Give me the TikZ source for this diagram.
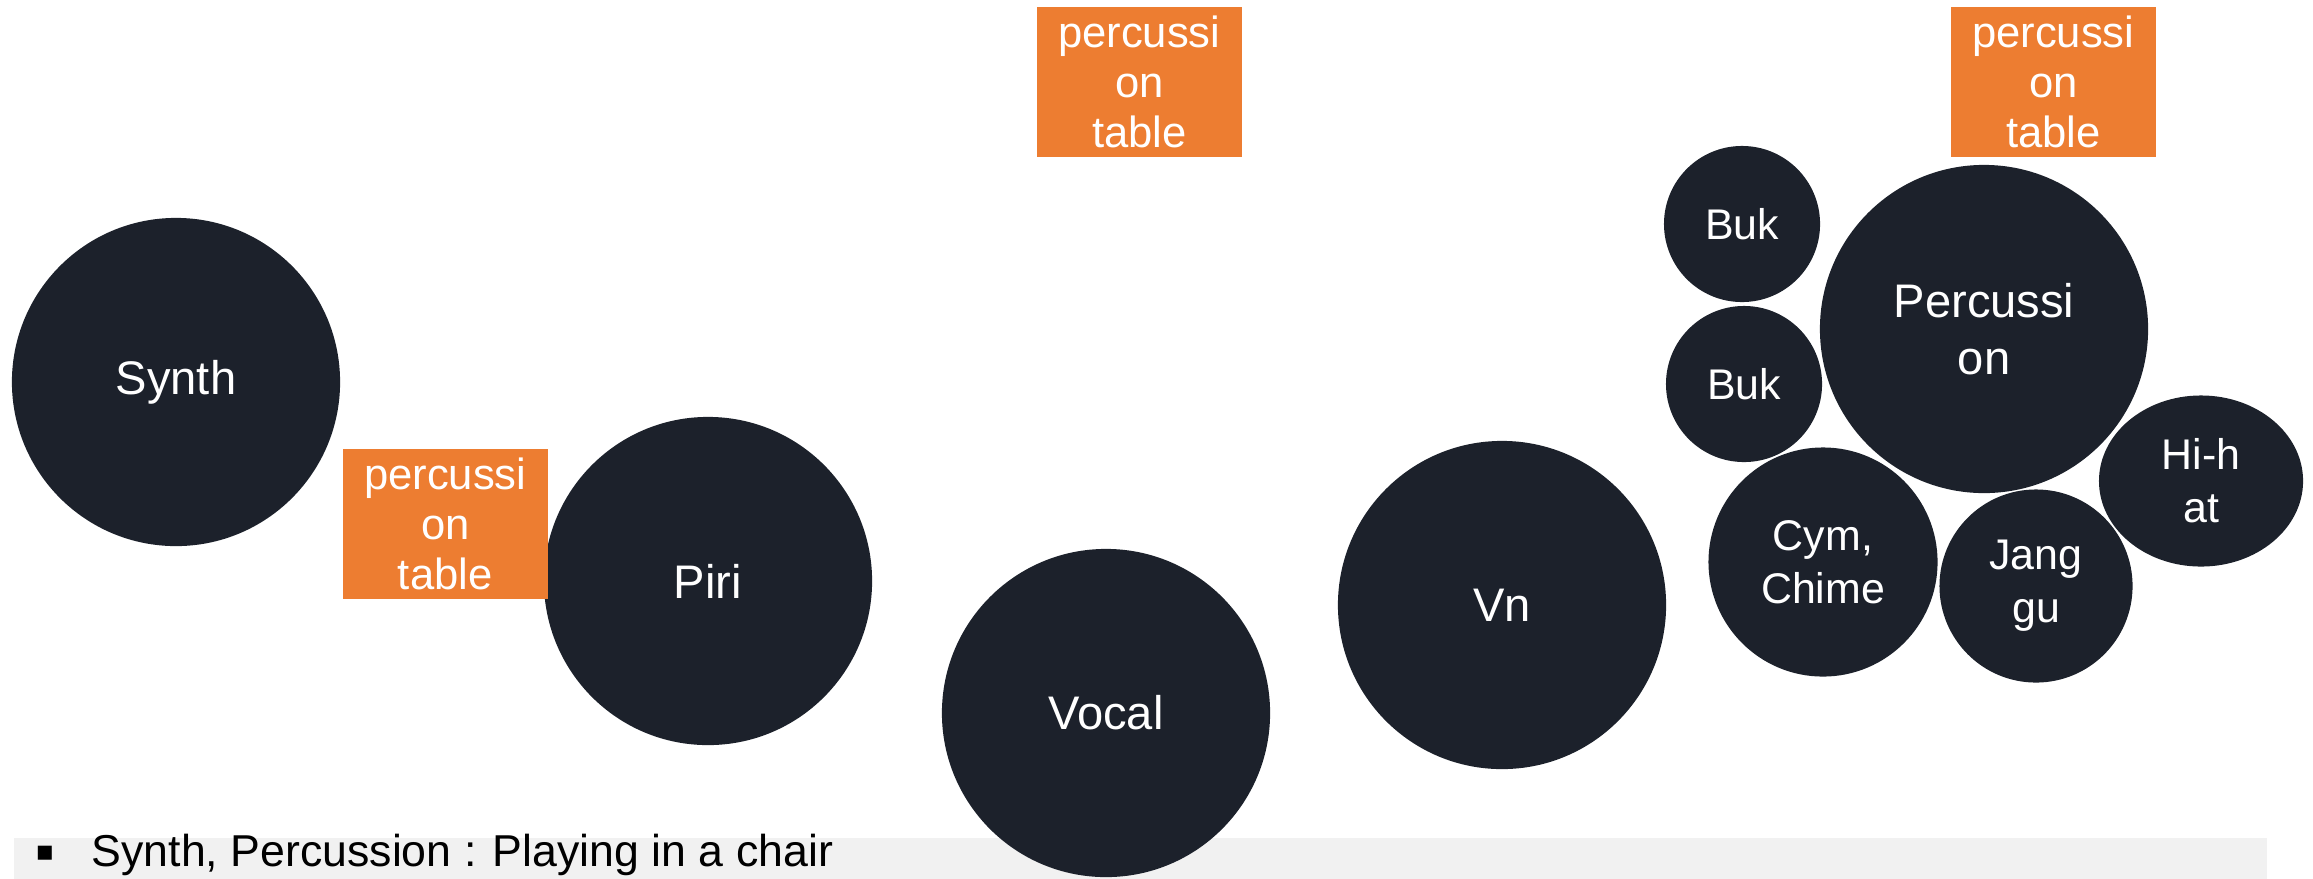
\documentclass[tikz,border=0pt]{standalone}
\usepackage{fontspec}
\setmainfont{Liberation Sans}
\newfontfamily\symfont{DejaVu Sans}
\usetikzlibrary{shapes.geometric}
\definecolor{darkc}{HTML}{1C212B}
\definecolor{orangec}{HTML}{ED7D31}
\definecolor{barc}{HTML}{F1F1F1}
\tikzset{
  bigc/.style={circle, fill=darkc, draw=none, inner sep=0pt, text=white, align=center,
    font=\fontsize{13.4}{16.4}\selectfont},
  smallc/.style={circle, fill=darkc, draw=none, inner sep=0pt, text=white, align=center,
    font=\fontsize{12.2}{15}\selectfont},
  tablebox/.style={rectangle, fill=orangec, draw=none, inner sep=0pt, text=white, align=center,
    minimum width=2.05cm, minimum height=1.50cm, font=\fontsize{12.4}{14.2}\selectfont},
}
\begin{document}
\begin{tikzpicture}[x=0.01cm,y=-0.01cm]
\useasboundingbox (0,0) rectangle (2313,878);
% bottom bar
\node[rectangle, fill=barc, draw=none, inner sep=0pt, anchor=north west,
  minimum width=22.52cm, minimum height=0.41cm] (bar) at (13,837) {};
\node[anchor=base, inner sep=0pt, font=\symfont\fontsize{8}{8}\selectfont] (bullet) at (45,860) {▪};
\node[anchor=base west, inner sep=0pt, font=\fontsize{12.7}{14}\selectfont] (note) at (91,866)
  {Synth, Percussion : Playing in a chair};
% big circles
\node[bigc, minimum size=3.28cm] (synth) at (176,382) {Synth};
\node[bigc, minimum size=3.28cm] (piri) at (708,581) {Piri};
\node[bigc, minimum size=3.28cm] (vocal) at (1106,713) {Vocal};
\node[bigc, minimum size=3.28cm] (vn) at (1502,605) {Vn};
\node[bigc, minimum size=3.28cm] (perc) at (1984,329) {Percussi\\on};
% small circles
\node[smallc, minimum size=1.56cm] (buk1) at (1742,224) {Buk};
\node[smallc, minimum size=1.56cm] (buk2) at (1744,384) {Buk};
\node[smallc, minimum size=2.29cm] (cym) at (1823,562) {Cym,\\Chime};
\node[smallc, minimum size=1.93cm] (jang) at (2036,586) {Jang\\gu};
\node[ellipse, fill=darkc, draw=none, inner sep=0pt, text=white, align=center,
  font=\fontsize{12.2}{15}\selectfont, minimum width=2.04cm, minimum height=1.71cm] (hihat) at (2201,481) {Hi-h\\at};
% orange boxes
\node[tablebox, anchor=north west] (t1) at (342,448) {percussi\\on\\table};
\node[tablebox, anchor=north west] (t2) at (1036,6) {percussi\\on\\table};
\node[tablebox, anchor=north west] (t3) at (1950,6) {percussi\\on\\table};
\end{tikzpicture}
\end{document}
